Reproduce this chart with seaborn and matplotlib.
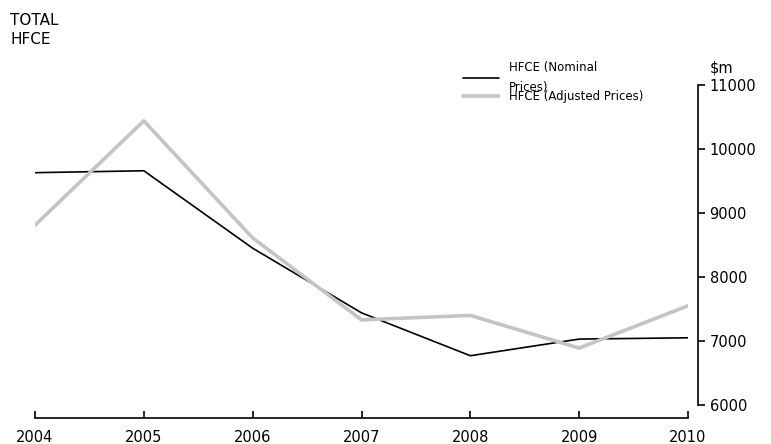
import seaborn as sns
import matplotlib.pyplot as plt
import pandas as pd

years = [2004, 2005, 2006, 2007, 2008, 2009, 2010]
nominal = [9630, 9660, 8450, 7440, 6770, 7030, 7050]
adjusted = [8810, 10440, 8610, 7330, 7400, 6890, 7550]

df = pd.DataFrame({'year': years, 'nominal': nominal, 'adjusted': adjusted})

sns.set_style('white')
plt.rcParams['font.family'] = ['DejaVu Sans']
plt.rcParams['text.color'] = 'black'
plt.rcParams['xtick.color'] = 'black'
plt.rcParams['ytick.color'] = 'black'

fig = plt.figure(figsize=(7.71, 4.44), dpi=100)
ax = fig.add_axes([35 / 771, 1 - 405 / 444, (688 - 35) / 771, (405 - 85) / 444])

sns.lineplot(data=df, x='year', y='nominal', ax=ax, color='black', lw=1.2,
             label='HFCE (Nominal\nPrices)')
sns.lineplot(data=df, x='year', y='adjusted', ax=ax, color='#c4c4c4', lw=2.6,
             label='HFCE (Adjusted Prices)')

ax.set_xlim(2004, 2010)
ax.set_ylim(6000, 11000)
ax.set_xticks(years)
ax.set_yticks(range(6000, 11001, 1000))
ax.set_xlabel('')
ax.set_ylabel('')

# axes: bottom and right only, both pushed outward
for s in ['top', 'left']:
    ax.spines[s].set_visible(False)
ax.spines['bottom'].set_position(('outward', 9))
ax.spines['right'].set_position(('outward', 7.5))
for s in ['bottom', 'right']:
    ax.spines[s].set_color('black')
    ax.spines[s].set_linewidth(1.2)
ax.yaxis.tick_right()
ax.tick_params(axis='x', direction='in', length=5, width=1.2, labelsize=10.5,
               pad=9, bottom=True)
ax.tick_params(axis='y', direction='out', length=5, width=1.2, labelsize=10.5,
               pad=3, right=True, left=False)

leg = ax.legend(loc='upper left', bbox_to_anchor=(0.655, 1.075), frameon=False,
                fontsize=8.5, handlelength=3.1, handletextpad=0.85,
                labelspacing=-0.3, borderpad=0, borderaxespad=0)
leg.get_texts()[0].set_linespacing(1.7)

fig.text(10 / 771, 1 - 30 / 444, 'TOTAL\nHFCE', fontsize=11, va='center',
         ha='left', linespacing=1.3)
fig.text(722 / 771, 1 - 68 / 444, '$m', fontsize=10.5, ha='center',
         va='center')

fig.savefig('out.png', dpi=100)
